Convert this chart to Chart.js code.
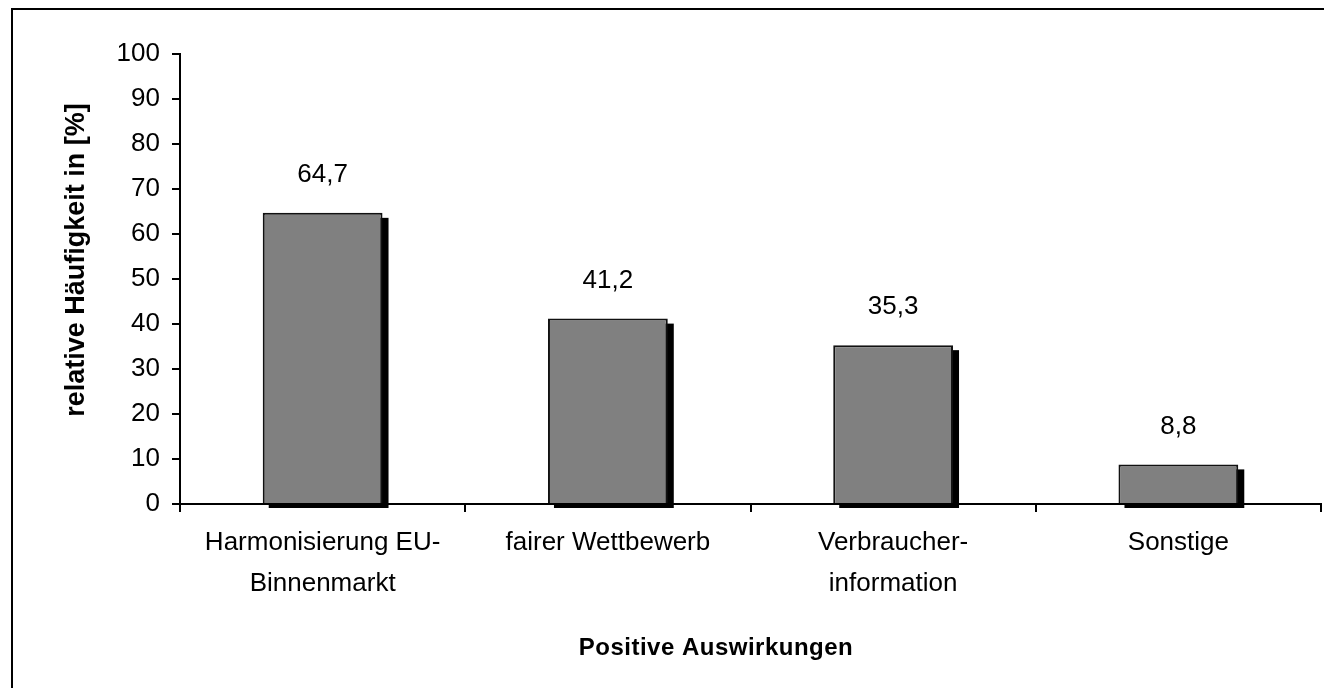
<!DOCTYPE html>
<html>
<head>
<meta charset="utf-8">
<script src="https://cdn.jsdelivr.net/npm/chart.js@4"></script>
<style>
  html, body { margin: 0; padding: 0; background: #fff; }
  #wrap { width: 1324px; height: 688px; position: relative; }
</style>
</head>
<body>
<div id="wrap"><canvas id="chart" width="1324" height="688"></canvas></div>
<script>
// daten
const categories = [
  ["Harmonisierung EU-", "Binnenmarkt"],
  "fairer Wettbewerb",
  ["Verbraucher-", "information"],
  "Sonstige"
];
const values = [64.7, 41.2, 35.3, 8.8];
const yTicks = [0, 10, 20, 30, 40, 50, 60, 70, 80, 90, 100];

const yTitle = "relative Häufigkeit in [%]";
const xTitle = "Positive Auswirkungen";

const FONT = "'Liberation Sans', Arial, sans-serif";

// rahmen, schatten, werte, achsentitel
const extras = {
  id: "extras",
  beforeDatasetsDraw(chart) {
    const ctx = chart.ctx;
    const meta = chart.getDatasetMeta(0);
    ctx.save();
    ctx.fillStyle = "#000";
    meta.data.forEach((bar) => {
      const w = bar.width;
      const left = bar.x - w / 2;
      ctx.fillRect(left + 6, bar.y + 5, w, bar.base - bar.y);
    });
    ctx.restore();
  },
  afterDatasetsDraw(chart) {
    const ctx = chart.ctx;
    const meta = chart.getDatasetMeta(0);
    ctx.save();
    ctx.fillStyle = "#000";
    ctx.font = "26px " + FONT;
    ctx.textAlign = "center";
    ctx.textBaseline = "middle";
    meta.data.forEach((bar, i) => {
      const label = values[i].toFixed(1).replace(".", ",");
      ctx.fillText(label, bar.x, bar.y - 38);
    });
    ctx.restore();
  },
  afterDraw(chart) {
    const ctx = chart.ctx;
    ctx.save();
    // rahmen
    ctx.strokeStyle = "#000";
    ctx.lineWidth = 2;
    ctx.strokeRect(12, 9, 1400, 800);

    ctx.fillStyle = "#000";
    ctx.textAlign = "center";
    ctx.textBaseline = "middle";

    // y-titel
    ctx.save();
    ctx.font = "bold 27px " + FONT;
    ctx.translate(77, 260);
    ctx.rotate(-Math.PI / 2);
    ctx.fillText(yTitle, 0, 0);
    ctx.restore();

    // x-titel
    ctx.font = "bold 24px " + FONT;
    ctx.letterSpacing = "0.5px";
    ctx.fillText(xTitle, 716, 648);
    ctx.restore();
  }
};

const ctx = document.getElementById("chart").getContext("2d");

new Chart(ctx, {
  type: "bar",
  data: {
    labels: categories,
    datasets: [
      {
        data: values,
        backgroundColor: "#808080",
        borderColor: "#111",
        borderWidth: 2,
        barPercentage: 0.42,
        categoryPercentage: 1
      }
    ]
  },
  options: {
    responsive: false,
    animation: false,
    events: [],
    layout: {
      padding: { left: 0, right: 3, top: 54, bottom: 0 }
    },
    plugins: {
      legend: { display: false },
      tooltip: { enabled: false }
    },
    scales: {
      x: {
        afterFit(scale) {
          scale.height = 184;
        },
        grid: {
          offset: true,
          drawOnChartArea: false,
          drawTicks: true,
          tickLength: 8,
          color: "#000",
          lineWidth: 2
        },
        border: { color: "#000", width: 2 },
        ticks: {
          color: "#000",
          padding: 11,
          maxRotation: 0,
          autoSkip: false,
          font: { family: FONT, size: 26, lineHeight: 1.56 }
        }
      },
      y: {
        min: 0,
        max: 100,
        afterFit(scale) {
          scale.width = 180;
        },
        afterBuildTicks(scale) {
          scale.ticks = yTicks.map((v) => ({ value: v }));
        },
        grid: {
          drawOnChartArea: false,
          drawTicks: true,
          tickLength: 8,
          color: "#000",
          lineWidth: 2
        },
        border: { color: "#000", width: 2 },
        ticks: {
          color: "#000",
          padding: 12,
          font: { family: FONT, size: 26 }
        }
      }
    }
  },
  plugins: [extras]
});
</script>
</body>
</html>
